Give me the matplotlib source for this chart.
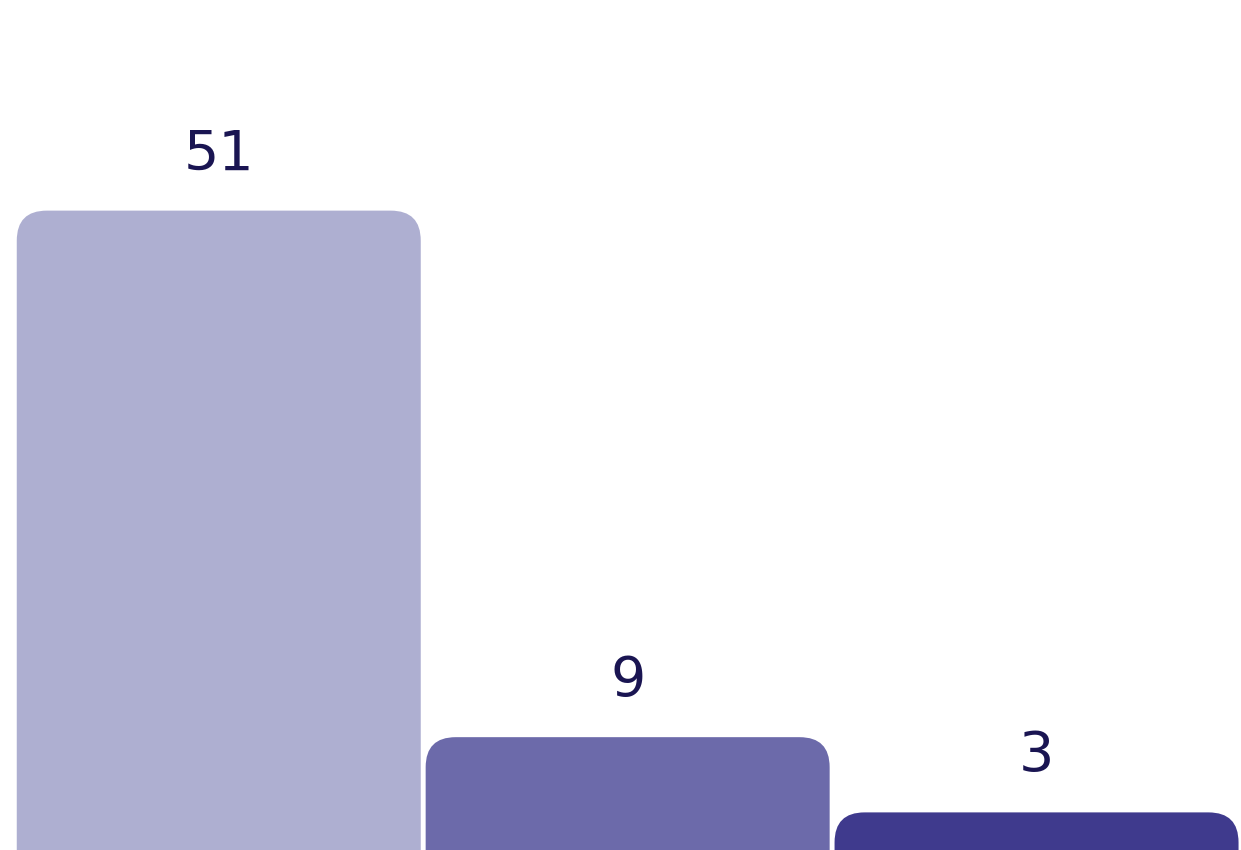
import matplotlib.pyplot as plt
from matplotlib.patches import FancyBboxPatch

categories = ['A', 'B', 'C']
values = [51, 9, 3]
bar_colors = ['#aeafd1', '#6c6aaa', '#3f3a8d']

fig = plt.figure(figsize=(12.41, 8.5), dpi=100)
ax = fig.add_axes([0, 0, 1, 1])
ax.set_xlim(-0.535, 2.5)
ax.set_ylim(0, 67.8)
ax.axis('off')

width = 0.988
# px -> data units for corner radius
rx = 30 / (1241 / 3.035)
ry = 30 / (850 / 67.8)

bars = ax.bar(range(len(values)), values, width=width, color='none')
for rect, c in zip(bars, bar_colors):
    x, w, h = rect.get_x(), rect.get_width(), rect.get_height()
    p = FancyBboxPatch((x, -5), w, h + 5,
                       boxstyle=f'round,pad=0,rounding_size={rx}',
                       mutation_aspect=ry / rx, fc=c, ec='none')
    ax.add_patch(p)

for i, v in enumerate(values):
    ax.annotate(str(v), (i, v), xytext=(0, 29.5), textcoords='offset points',
                ha='center', va='baseline', fontsize=40, color='#1a1552',
                family='DejaVu Sans')

fig.savefig('out.png', dpi=100)
